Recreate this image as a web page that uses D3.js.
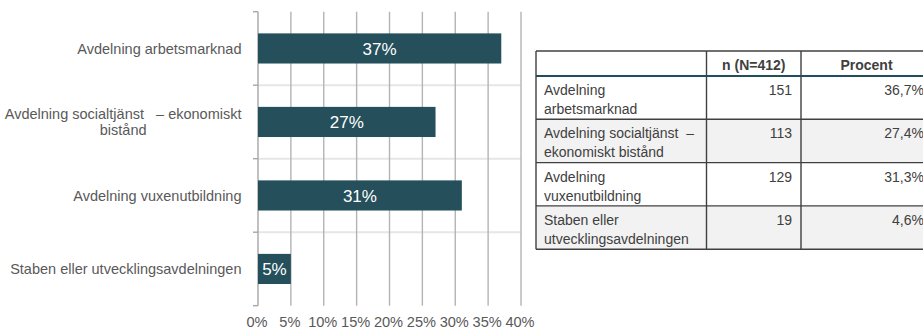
<!DOCTYPE html>
<html>
<head>
<meta charset="utf-8">
<script src="https://cdn.jsdelivr.net/npm/d3@7"></script>
<style>
  body { margin: 0; background: #fff; overflow: hidden; }
  text { font-family: "Liberation Sans", Arial, sans-serif; white-space: pre; }
</style>
</head>
<body>
<div class="chart"></div>
<script>
// chart data
var categories = ["Avdelning arbetsmarknad", "Avdelning socialtjänst   – ekonomiskt bistånd", "Avdelning vuxenutbildning", "Staben eller utvecklingsavdelningen"];
var chartLabelLines = [["Avdelning arbetsmarknad"], ["Avdelning socialtjänst   – ekonomiskt", "bistånd"], ["Avdelning vuxenutbildning"], ["Staben eller utvecklingsavdelningen"]];
var barValues = [37, 27, 31, 5];
var xTicks = [0, 5, 10, 15, 20, 25, 30, 35, 40];

// table data
var tableHeaders = ["", "n (N=412)", "Procent"];
var tableLabelLines = [["Avdelning", "arbetsmarknad"], ["Avdelning socialtjänst  –", "ekonomiskt bistånd"], ["Avdelning", "vuxenutbildning"], ["Staben eller", "utvecklingsavdelningen"]];
var counts = [151, 113, 129, 19];
var percents = [36.7, 27.4, 31.3, 4.6];

var W = 923, H = 328;
var svg = d3.select("div.chart").append("svg")
  .attr("width", W).attr("height", H);

// ---- bar chart ----
var x = d3.scaleLinear().domain([0, 40]).range([258, 521]);
var y = d3.scaleBand().domain(categories).range([11.7, 305.7])
  .paddingInner(0.59).paddingOuter(0.295);
var step = y.step();

// horizontal separators between categories
svg.append("g").selectAll("line")
  .data(d3.range(1, categories.length))
  .enter().append("line")
  .attr("x1", x(0)).attr("x2", x(40))
  .attr("y1", function (i) { return 11.7 + i * step; })
  .attr("y2", function (i) { return 11.7 + i * step; })
  .style("stroke", "#e6e6e6").style("stroke-width", 2);

// vertical gridlines
svg.append("g").selectAll("line")
  .data(xTicks.slice(1))
  .enter().append("line")
  .attr("x1", function (d) { return x(d); }).attr("x2", function (d) { return x(d); })
  .attr("y1", 11.7).attr("y2", 305.7)
  .style("stroke", "#b4b4b4").style("stroke-width", 1.4);

// left axis line + ticks at category boundaries
svg.append("line")
  .attr("x1", x(0)).attr("x2", x(0)).attr("y1", 11.7).attr("y2", 305.7)
  .style("stroke", "#a6a6a6").style("stroke-width", 1.4);
svg.append("g").selectAll("line")
  .data(d3.range(0, categories.length + 1))
  .enter().append("line")
  .attr("x1", x(0) - 5).attr("x2", x(0))
  .attr("y1", function (i) { return 11.7 + i * step; })
  .attr("y2", function (i) { return 11.7 + i * step; })
  .style("stroke", "#a6a6a6").style("stroke-width", 1.4);

// bars
svg.append("g").selectAll("rect")
  .data(barValues)
  .enter().append("rect")
  .attr("x", x(0))
  .attr("y", function (d, i) { return y(categories[i]); })
  .attr("width", function (d) { return x(d) - x(0); })
  .attr("height", y.bandwidth())
  .style("fill", "#244f5b");

// bar value labels
svg.append("g").selectAll("text")
  .data(barValues)
  .enter().append("text")
  .attr("x", function (d) { return (x(0) + x(d)) / 2; })
  .attr("y", function (d, i) { return y(categories[i]) + y.bandwidth() / 2; })
  .attr("dy", "0.36em")
  .style("text-anchor", "middle")
  .style("font-size", "17px")
  .style("fill", "#fff")
  .text(function (d) { return d + "%"; });

// x tick labels
svg.append("g").selectAll("text")
  .data(xTicks)
  .enter().append("text")
  .attr("x", function (d) { return x(d) - 1; })
  .attr("y", 326.5)
  .style("text-anchor", "middle")
  .style("font-size", "14.6px")
  .style("fill", "#595959")
  .text(function (d) { return d + "%"; });

// category labels (right aligned block, lines centred within block)
var labelRight = 241.5;
chartLabelLines.forEach(function (lines, i) {
  var cy = y(categories[i]) + y.bandwidth() / 2;
  var g = svg.append("g");
  var texts = g.selectAll("text").data(lines).enter().append("text")
    .attr("y", function (d, j) { return cy + (j - (lines.length - 1) / 2) * 16; })
    .attr("dy", "0.36em")
    .style("font-size", "14.5px")
    .style("fill", "#595959")
    .text(function (d) { return d; });
  var maxW = d3.max(texts.nodes(), function (n) { return n.getComputedTextLength(); });
  texts.attr("x", labelRight - maxW / 2).style("text-anchor", "middle");
});

// ---- table ----
var colX = [536, 706.5, 801, 932];
var headTop = 51, headBottom = 76, rowH = 43.3;
var rowY = function (i) { return headBottom + i * rowH; };
var nRows = counts.length;

// row backgrounds
svg.append("g").selectAll("rect")
  .data(counts)
  .enter().append("rect")
  .attr("x", colX[0]).attr("width", colX[3] - colX[0])
  .attr("y", function (d, i) { return rowY(i); })
  .attr("height", rowH)
  .style("fill", function (d, i) { return i % 2 ? "#f2f2f2" : "#fff"; });

// horizontal borders
svg.append("g").selectAll("line")
  .data([headTop].concat(d3.range(1, nRows + 1).map(rowY)))
  .enter().append("line")
  .attr("x1", colX[0]).attr("x2", colX[3])
  .attr("y1", function (d) { return d; }).attr("y2", function (d) { return d; })
  .style("stroke", "#404040").style("stroke-width", 1.4);

// vertical borders
svg.append("g").selectAll("line")
  .data(colX)
  .enter().append("line")
  .attr("x1", function (d) { return d; }).attr("x2", function (d) { return d; })
  .attr("y1", headTop).attr("y2", rowY(nRows))
  .style("stroke", "#404040").style("stroke-width", 1.4);

// header bottom line
svg.append("line")
  .attr("x1", colX[0]).attr("x2", colX[3])
  .attr("y1", headBottom).attr("y2", headBottom)
  .style("stroke", "#1f4e5c").style("stroke-width", 2);

// header text
svg.append("g").selectAll("text")
  .data(tableHeaders)
  .enter().append("text")
  .attr("x", function (d, i) { return (colX[i] + colX[i + 1]) / 2; })
  .attr("y", (headTop + headBottom) / 2 + 1)
  .attr("dy", "0.36em")
  .style("text-anchor", "middle")
  .style("font-size", "14px")
  .style("font-weight", "bold")
  .style("fill", "#404040")
  .text(function (d) { return d; });

// row labels
tableLabelLines.forEach(function (lines, i) {
  svg.append("g").selectAll("text")
    .data(lines)
    .enter().append("text")
    .attr("x", colX[0] + 8)
    .attr("y", function (d, j) { return rowY(i) + 19 + j * 19; })
    .style("font-size", "14px")
    .style("fill", "#404040")
    .text(function (d) { return d; });
});

// counts
svg.append("g").selectAll("text")
  .data(counts)
  .enter().append("text")
  .attr("x", colX[2] - 9)
  .attr("y", function (d, i) { return rowY(i) + 19; })
  .style("text-anchor", "end")
  .style("font-size", "14px")
  .style("fill", "#404040")
  .text(function (d) { return d; });

// percents
svg.append("g").selectAll("text")
  .data(percents)
  .enter().append("text")
  .attr("x", colX[3] - 8)
  .attr("y", function (d, i) { return rowY(i) + 19; })
  .style("text-anchor", "end")
  .style("font-size", "14px")
  .style("fill", "#404040")
  .text(function (d) { return d.toFixed(1).replace(".", ",") + "%"; });
</script>
</body>
</html>
